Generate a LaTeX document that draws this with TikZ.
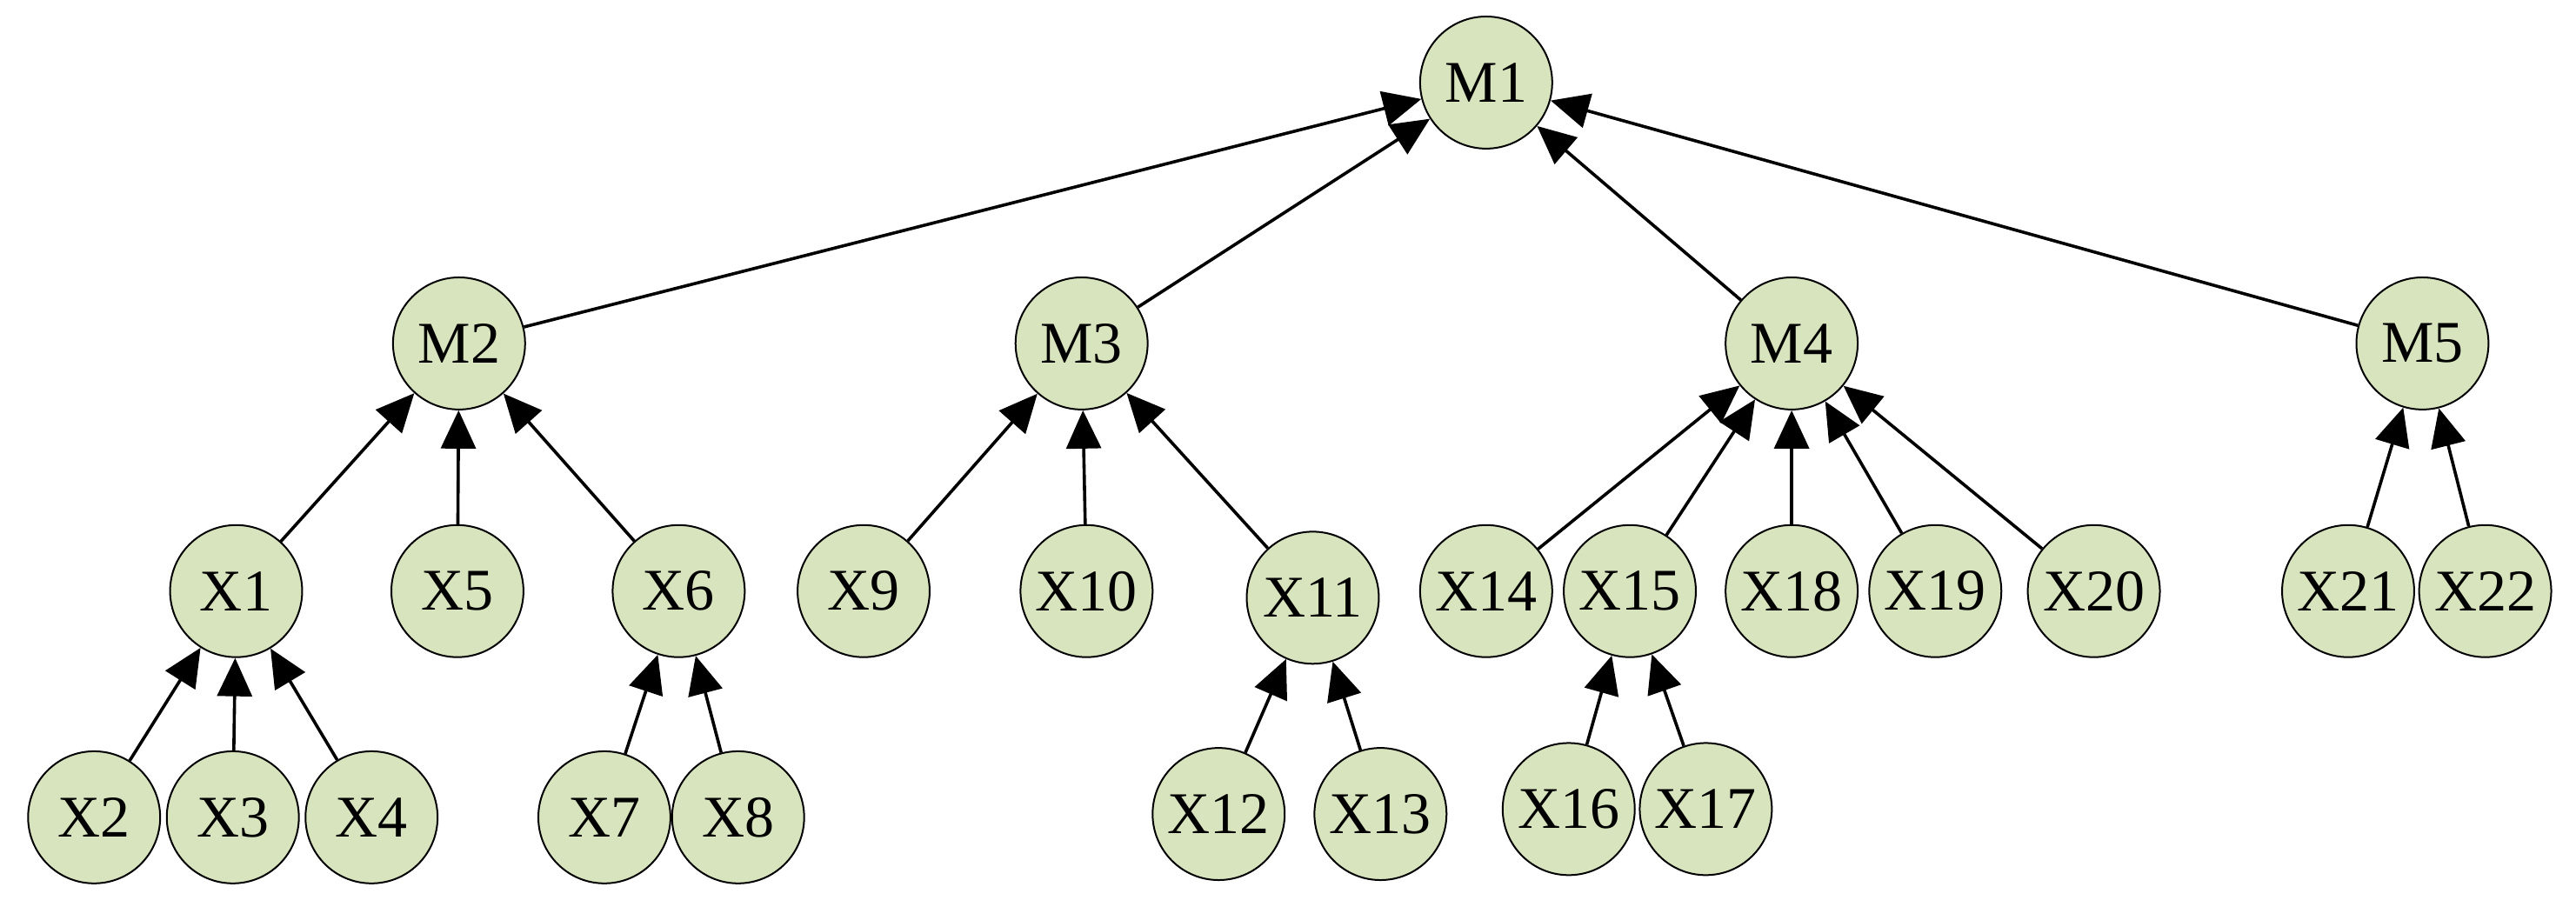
\documentclass[tikz,border=0pt]{standalone}
\usepackage{fontspec}
\setmainfont{Liberation Serif}
\usetikzlibrary{arrows.meta}
\definecolor{nodefill}{HTML}{D7E4BD}
\begin{document}
\begin{tikzpicture}[x=0.95pt,y=-0.95pt,
  n/.style={circle,draw=black,line width=1pt,fill=nodefill,minimum size=76pt,inner sep=0pt,font=\fontsize{34}{34}\selectfont},
  e/.style={line width=1.8pt,-{Triangle[length=22pt,width=20pt]}}]
\useasboundingbox (0,0) rectangle (1560,549);
\node[n] (M1) at (900,50) {M1};
\node[n] (M2) at (278,208) {M2};
\node[n] (M3) at (655,208) {M3};
\node[n] (M4) at (1085,208) {M4};
\node[n] (M5) at (1467,208) {M5};
\node[n] (X1) at (143,358) {X1};
\node[n] (X5) at (277,358) {X5};
\node[n] (X6) at (411,358) {X6};
\node[n] (X9) at (523,358) {X9};
\node[n] (X10) at (658,358) {X10};
\node[n] (X11) at (795,362) {X11};
\node[n] (X14) at (900,358) {X14};
\node[n] (X15) at (987,358) {X15};
\node[n] (X18) at (1085,358) {X18};
\node[n] (X19) at (1172,358) {X19};
\node[n] (X20) at (1268,358) {X20};
\node[n] (X21) at (1422,358) {X21};
\node[n] (X22) at (1505,358) {X22};
\node[n] (X2) at (57,495) {X2};
\node[n] (X3) at (141,495) {X3};
\node[n] (X4) at (225,495) {X4};
\node[n] (X7) at (366,495) {X7};
\node[n] (X8) at (447,495) {X8};
\node[n] (X12) at (738,493) {X12};
\node[n] (X13) at (836,493) {X13};
\node[n] (X16) at (950,490) {X16};
\node[n] (X17) at (1033,490) {X17};
\foreach \c/\p in {M2/M1,M3/M1,M4/M1,M5/M1,X1/M2,X5/M2,X6/M2,X9/M3,X10/M3,X11/M3,
  X14/M4,X15/M4,X18/M4,X19/M4,X20/M4,X21/M5,X22/M5,X2/X1,X3/X1,X4/X1,X7/X6,X8/X6,
  X12/X11,X13/X11,X16/X15,X17/X15}
  \draw[e] (\c) -- (\p);
\end{tikzpicture}
\end{document}
